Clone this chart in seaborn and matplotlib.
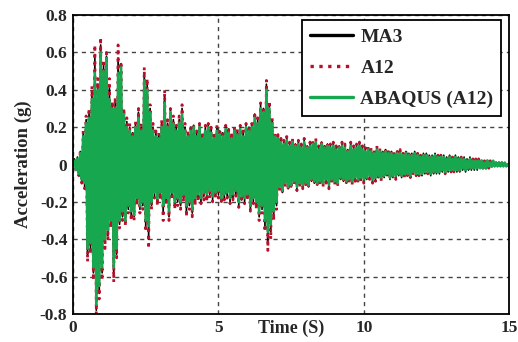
import numpy as np
import pandas as pd
import seaborn as sns
import matplotlib.pyplot as plt

sns.set_style("white")
plt.rcParams['font.family'] = ['Liberation Serif', 'DejaVu Serif']
plt.rcParams['font.weight'] = 'bold'

# sample times (s), one reading every 0.05 s
time = np.round(np.arange(301) * 0.05, 2)

# ABAQUS (A12) - green, one row per second
abaqus = [
    0.00, 0.02, -0.03, 0.03, -0.05, 0.06, -0.08, 0.15, -0.10, 0.22, -0.45, 0.25, -0.42, 0.35, -0.55, 0.49, -0.75, 0.40, -0.65, 0.60,
    -0.55, 0.50, -0.40, 0.57, -0.35, 0.35, -0.30, 0.30, -0.55, 0.30, -0.45, 0.49, -0.30, 0.52, -0.25, 0.27, -0.30, 0.20, -0.22, 0.18,
    -0.25, 0.15, -0.27, 0.20, -0.18, 0.25, -0.22, 0.18, -0.20, 0.45, -0.30, 0.40, -0.33, 0.28, -0.20, 0.18, -0.15, 0.15, -0.18, 0.14,
    -0.15, 0.20, -0.22, 0.33, -0.18, 0.20, -0.25, 0.28, -0.15, 0.22, -0.20, 0.18, -0.18, 0.22, -0.20, 0.27, -0.16, 0.18, -0.22, 0.15,
    -0.20, 0.18, -0.24, 0.20, -0.18, 0.15, -0.16, 0.20, -0.18, 0.14, -0.15, 0.18, -0.16, 0.20, -0.14, 0.17, -0.17, 0.14, -0.15, 0.18,
    -0.14, 0.16, -0.18, 0.15, -0.16, 0.19, -0.15, 0.17, -0.18, 0.14, -0.16, 0.18, -0.14, 0.16, -0.20, 0.19, -0.17, 0.15, -0.18, 0.20,
    -0.16, 0.18, -0.22, 0.20, -0.18, 0.25, -0.20, 0.22, -0.26, 0.30, -0.22, 0.28, -0.30, 0.40, -0.36, 0.30, -0.32, 0.22, -0.25, 0.15,
    -0.20, 0.14, -0.12, 0.12, -0.14, 0.11, -0.10, 0.13, -0.12, 0.10, -0.11, 0.12, -0.09, 0.10, -0.12, 0.11, -0.10, 0.09, -0.11, 0.12,
    -0.10, 0.09, -0.11, 0.10, -0.08, 0.11, -0.09, 0.12, -0.10, 0.08, -0.09, 0.11, -0.10, 0.09, -0.08, 0.10, -0.11, 0.09, -0.08, 0.10,
    -0.09, 0.08, -0.10, 0.09, -0.07, 0.10, -0.08, 0.09, -0.09, 0.07, -0.08, 0.10, -0.09, 0.08, -0.07, 0.09, -0.08, 0.10, -0.07, 0.08,
    -0.08, 0.07, -0.07, 0.08, -0.06, 0.07, -0.08, 0.06, -0.07, 0.08, -0.06, 0.07, -0.07, 0.06, -0.06, 0.07, -0.05, 0.06, -0.07, 0.06,
    -0.06, 0.05, -0.06, 0.06, -0.05, 0.06, -0.06, 0.05, -0.05, 0.06, -0.05, 0.05, -0.06, 0.05, -0.04, 0.06, -0.05, 0.05, -0.05, 0.04,
    -0.05, 0.05, -0.04, 0.05, -0.04, 0.04, -0.05, 0.04, -0.04, 0.05, -0.04, 0.04, -0.04, 0.04, -0.03, 0.04, -0.04, 0.03, -0.03, 0.04,
    -0.03, 0.03, -0.03, 0.04, -0.03, 0.03, -0.03, 0.03, -0.02, 0.03, -0.03, 0.02, -0.02, 0.03, -0.02, 0.02, -0.02, 0.02, -0.02, 0.02,
    -0.02, 0.02, -0.02, 0.01, -0.02, 0.02, -0.01, 0.01, -0.01, 0.02, -0.01, 0.01, -0.01, 0.01, -0.01, 0.01, -0.01, 0.01, -0.01, 0.00,
    0.00]

# A12 - red dotted
a12 = [
    0.00, 0.03, -0.04, 0.04, -0.06, 0.08, -0.10, 0.18, -0.13, 0.26, -0.52, 0.30, -0.48, 0.42, -0.62, 0.64, -0.80, 0.46, -0.72, 0.68,
    -0.62, 0.56, -0.45, 0.60, -0.40, 0.46, -0.34, 0.34, -0.63, 0.36, -0.50, 0.64, -0.34, 0.55, -0.30, 0.30, -0.33, 0.25, -0.26, 0.22,
    -0.30, 0.18, -0.30, 0.23, -0.22, 0.30, -0.26, 0.22, -0.24, 0.52, -0.36, 0.46, -0.45, 0.32, -0.24, 0.22, -0.18, 0.18, -0.22, 0.17,
    -0.19, 0.24, -0.30, 0.40, -0.22, 0.24, -0.30, 0.30, -0.19, 0.26, -0.24, 0.21, -0.22, 0.26, -0.24, 0.32, -0.20, 0.22, -0.28, 0.18,
    -0.24, 0.21, -0.28, 0.22, -0.22, 0.18, -0.20, 0.22, -0.21, 0.17, -0.19, 0.21, -0.20, 0.22, -0.18, 0.20, -0.20, 0.17, -0.18, 0.21,
    -0.18, 0.19, -0.21, 0.18, -0.19, 0.21, -0.18, 0.20, -0.21, 0.17, -0.19, 0.20, -0.17, 0.19, -0.23, 0.21, -0.20, 0.18, -0.21, 0.22,
    -0.19, 0.21, -0.25, 0.22, -0.21, 0.28, -0.24, 0.25, -0.30, 0.33, -0.26, 0.31, -0.36, 0.45, -0.46, 0.34, -0.40, 0.25, -0.30, 0.17,
    -0.24, 0.16, -0.14, 0.14, -0.16, 0.13, -0.12, 0.15, -0.14, 0.12, -0.13, 0.14, -0.11, 0.12, -0.14, 0.13, -0.12, 0.11, -0.13, 0.14,
    -0.12, 0.11, -0.13, 0.12, -0.10, 0.13, -0.11, 0.14, -0.12, 0.10, -0.11, 0.13, -0.12, 0.11, -0.10, 0.12, -0.13, 0.11, -0.10, 0.12,
    -0.11, 0.10, -0.12, 0.11, -0.09, 0.12, -0.10, 0.11, -0.11, 0.09, -0.10, 0.12, -0.11, 0.10, -0.09, 0.11, -0.10, 0.12, -0.09, 0.10,
    -0.10, 0.09, -0.09, 0.10, -0.08, 0.09, -0.10, 0.08, -0.09, 0.10, -0.08, 0.09, -0.09, 0.08, -0.07, 0.09, -0.07, 0.08, -0.08, 0.07,
    -0.07, 0.07, -0.08, 0.07, -0.06, 0.08, -0.07, 0.06, -0.07, 0.07, -0.06, 0.07, -0.07, 0.06, -0.06, 0.07, -0.06, 0.06, -0.06, 0.05,
    -0.06, 0.06, -0.05, 0.06, -0.05, 0.05, -0.06, 0.05, -0.05, 0.06, -0.05, 0.05, -0.05, 0.05, -0.04, 0.05, -0.05, 0.04, -0.04, 0.05,
    -0.04, 0.04, -0.04, 0.05, -0.04, 0.04, -0.04, 0.04, -0.03, 0.04, -0.04, 0.03, -0.03, 0.04, -0.03, 0.03, -0.03, 0.03, -0.03, 0.03,
    -0.03, 0.02, -0.02, 0.02, -0.02, 0.02, -0.02, 0.02, -0.01, 0.02, -0.01, 0.01, -0.01, 0.01, -0.01, 0.01, -0.01, 0.01, -0.01, 0.00,
    0.00]

# MA3 - black
ma3 = [
    0.00, 0.03, -0.03, 0.04, -0.05, 0.07, -0.09, 0.17, -0.12, 0.24, -0.49, 0.28, -0.45, 0.39, -0.58, 0.57, -0.78, 0.43, -0.69, 0.64,
    -0.58, 0.53, -0.42, 0.58, -0.38, 0.41, -0.32, 0.32, -0.60, 0.33, -0.48, 0.57, -0.32, 0.54, -0.28, 0.29, -0.31, 0.23, -0.24, 0.20,
    -0.28, 0.17, -0.28, 0.22, -0.20, 0.28, -0.24, 0.20, -0.22, 0.49, -0.33, 0.43, -0.40, 0.30, -0.22, 0.20, -0.17, 0.17, -0.20, 0.16,
    -0.17, 0.22, -0.26, 0.37, -0.20, 0.22, -0.28, 0.29, -0.17, 0.24, -0.22, 0.20, -0.20, 0.24, -0.22, 0.30, -0.18, 0.20, -0.25, 0.17,
    -0.22, 0.20, -0.26, 0.21, -0.20, 0.17, -0.18, 0.21, -0.20, 0.16, -0.17, 0.20, -0.18, 0.21, -0.16, 0.19, -0.19, 0.16, -0.17, 0.20,
    -0.16, 0.18, -0.20, 0.17, -0.18, 0.20, -0.17, 0.19, -0.20, 0.16, -0.18, 0.19, -0.16, 0.18, -0.22, 0.20, -0.19, 0.17, -0.20, 0.21,
    -0.18, 0.20, -0.24, 0.21, -0.20, 0.27, -0.22, 0.24, -0.28, 0.32, -0.24, 0.30, -0.33, 0.43, -0.42, 0.32, -0.36, 0.24, -0.28, 0.16,
    -0.22, 0.15, -0.13, 0.13, -0.15, 0.12, -0.11, 0.14, -0.13, 0.11, -0.12, 0.13, -0.10, 0.11, -0.13, 0.12, -0.11, 0.10, -0.12, 0.13,
    -0.11, 0.10, -0.12, 0.11, -0.09, 0.12, -0.10, 0.13, -0.11, 0.09, -0.10, 0.12, -0.11, 0.10, -0.09, 0.11, -0.12, 0.10, -0.09, 0.11,
    -0.10, 0.09, -0.11, 0.10, -0.08, 0.11, -0.09, 0.10, -0.10, 0.08, -0.09, 0.11, -0.10, 0.09, -0.08, 0.10, -0.09, 0.11, -0.08, 0.09,
    -0.09, 0.08, -0.08, 0.09, -0.07, 0.08, -0.09, 0.07, -0.08, 0.09, -0.07, 0.08, -0.08, 0.07, -0.07, 0.08, -0.06, 0.07, -0.08, 0.07,
    -0.07, 0.06, -0.07, 0.07, -0.06, 0.07, -0.07, 0.06, -0.06, 0.07, -0.06, 0.06, -0.07, 0.06, -0.05, 0.07, -0.06, 0.06, -0.06, 0.05,
    -0.06, 0.06, -0.05, 0.06, -0.05, 0.05, -0.06, 0.05, -0.05, 0.06, -0.05, 0.05, -0.05, 0.05, -0.04, 0.05, -0.05, 0.04, -0.04, 0.05,
    -0.04, 0.04, -0.04, 0.05, -0.04, 0.04, -0.04, 0.04, -0.03, 0.04, -0.04, 0.03, -0.03, 0.04, -0.03, 0.03, -0.03, 0.03, -0.03, 0.03,
    -0.02, 0.02, -0.02, 0.02, -0.02, 0.02, -0.01, 0.01, -0.01, 0.02, -0.01, 0.01, -0.01, 0.01, -0.01, 0.01, -0.01, 0.01, -0.01, 0.00,
    0.00]

x_ticks = [0, 5, 10, 15]
y_ticks = [-0.8, -0.6, -0.4, -0.2, 0, 0.2, 0.4, 0.6, 0.8]
y_labels = ['-0.8', '-0.6', '-0.4', '-0.2', '0', '0.2', '0.4', '0.6', '0.8']

fig = plt.figure(figsize=(5.18, 3.42), dpi=100)
ax = fig.add_axes([0.141, 0.082, 0.842, 0.874])

sns.lineplot(x=time, y=ma3, ax=ax, color='black', lw=1.2, label='MA3')
sns.lineplot(x=time, y=a12, ax=ax, color='#b8102a', lw=2.0, linestyle=':', label='A12')
sns.lineplot(x=time, y=abaqus, ax=ax, color='#17a84f', lw=1.9, label='ABAQUS (A12)')

ax.set_xlim(0, 15)
ax.set_ylim(-0.8, 0.8)
ax.set_xticks(x_ticks)
ax.set_xticklabels([str(t) for t in x_ticks], fontsize=12.5, fontweight='bold')
ax.set_yticks(y_ticks)
ax.set_yticklabels(y_labels, fontsize=12.5, fontweight='bold')
ax.tick_params(length=0, pad=4)

ax.grid(True, color='#444444', linestyle=(0, (3, 3)), lw=1)
for s in ax.spines.values():
    s.set_color('black')
    s.set_linewidth(1.3)

ax.set_ylabel('Acceleration (g)', fontsize=13.5, fontweight='bold', labelpad=6)
ax.set_xlabel('Time (S)', fontsize=13, fontweight='bold')
ax.xaxis.set_label_coords(0.5, -0.02)

leg = ax.legend(loc='upper right', bbox_to_anchor=(0.982, 0.983), borderaxespad=0,
                fontsize=14, handlelength=2.2, handletextpad=0.4, labelspacing=0.7,
                borderpad=0.4, frameon=True, fancybox=False, edgecolor='black', framealpha=1)
leg.get_frame().set_linewidth(1.3)
for line in leg.get_lines():
    line.set_linewidth(2.4)

plt.savefig('out.png', dpi=100)
